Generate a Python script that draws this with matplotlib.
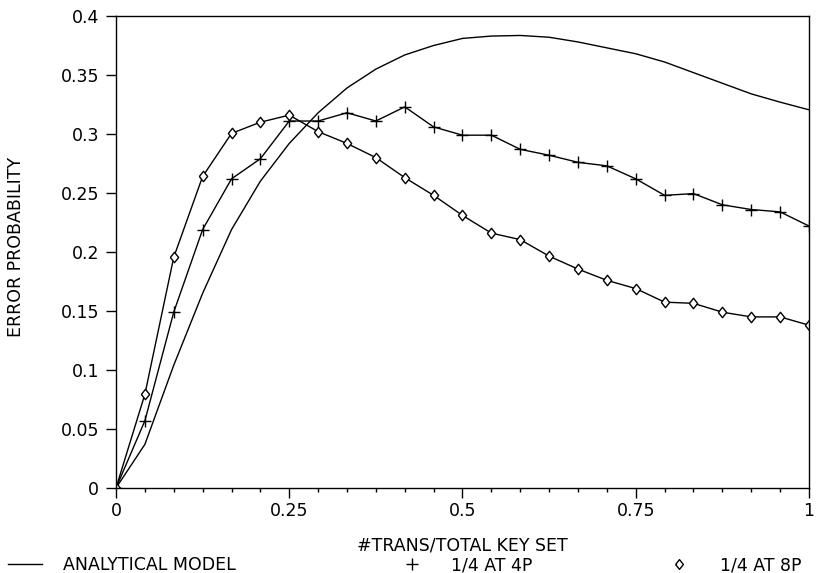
import numpy as np
import matplotlib.pyplot as plt
from matplotlib.lines import Line2D

# fraction of key set transmitted (24 steps)
frac = [0.0, 0.0417, 0.0833, 0.125, 0.1667, 0.2083, 0.25, 0.2917, 0.3333,
        0.375, 0.4167, 0.4583, 0.5, 0.5417, 0.5833, 0.625, 0.6667, 0.7083,
        0.75, 0.7917, 0.8333, 0.875, 0.9167, 0.9583, 1.0]

# analytical model
analytical = [0.0, 0.037, 0.104, 0.165, 0.219, 0.260, 0.292, 0.318, 0.339,
              0.355, 0.367, 0.375, 0.381, 0.383, 0.3835, 0.382, 0.378, 0.373,
              0.368, 0.361, 0.352, 0.343, 0.334, 0.327, 0.3205]

# 1/4 at 4P
err_4p = [0.0, 0.057, 0.149, 0.219, 0.262, 0.279, 0.311, 0.311, 0.318,
          0.311, 0.323, 0.306, 0.299, 0.299, 0.287, 0.282, 0.276, 0.273,
          0.262, 0.248, 0.2495, 0.240, 0.236, 0.234, 0.222]

# 1/4 at 8P
err_8p = [0.0, 0.0795, 0.1955, 0.264, 0.3005, 0.310, 0.316, 0.302, 0.292,
          0.280, 0.263, 0.248, 0.231, 0.216, 0.2105, 0.1965, 0.1855, 0.176,
          0.169, 0.1575, 0.1565, 0.149, 0.145, 0.145, 0.138]

xticks = [0, 0.25, 0.5, 0.75, 1]
xticklabels = ["0", "0.25", "0.5", "0.75", "1"]
yticks = [0, 0.05, 0.1, 0.15, 0.2, 0.25, 0.3, 0.35, 0.4]
yticklabels = ["0", "0.05", "0.1", "0.15", "0.2", "0.25", "0.3", "0.35", "0.4"]

plt.rcParams['font.family'] = ['DejaVu Sans']
fs = 12.5

# diamond a bit wider than matplotlib's thin 'd'
diamond = [(-0.4, 0), (0, 0.5), (0.4, 0), (0, -0.5), (-0.4, 0)]

fig = plt.figure(figsize=(8.2, 5.73), dpi=100)
ax = fig.add_axes([116/820, 1-488/573, 693/820, 472/573])

lw = 1.0
ax.plot(frac, analytical, color='black', lw=lw)
ax.plot(frac, err_4p, color='black', lw=lw, marker='+', ms=8, mew=1.0)
ax.plot(frac, err_8p, color='black', lw=lw, marker=diamond, ms=7.5, mew=1.0,
        mfc='white', mec='black')

ax.set_xlim(0, 1)
ax.set_ylim(0, 0.4)
ax.set_xticks(xticks)
ax.set_xticklabels(xticklabels, fontsize=fs)
ax.set_xticks(frac, minor=True)
ax.set_yticks(yticks)
ax.set_yticklabels(yticklabels, fontsize=fs)
ax.tick_params(axis='x', which='major', direction='out', length=7, width=1, pad=3)
ax.tick_params(axis='x', which='minor', direction='out', length=3, width=1)
ax.tick_params(axis='y', which='major', direction='out', length=7, width=1, pad=5)
for s in ax.spines.values():
    s.set_linewidth(1.0)

ax.set_ylabel("ERROR PROBABILITY", fontsize=fs)
ax.yaxis.set_label_coords(-0.131, 0.51)
ax.set_xlabel("#TRANS/TOTAL KEY SET", fontsize=fs)
ax.xaxis.set_label_coords(0.5, -0.121)
ax.xaxis.label.set_va('center')

# legend entries along the bottom
ly = 1 - 565/573
h1 = Line2D([], [], color='black', lw=lw)
h2 = Line2D([], [], color='black', lw=0, marker='+', ms=8, mew=1.0)
h3 = Line2D([], [], color='black', lw=0, marker=diamond, ms=7, mew=1.0, mfc='white')
em = fs * 100 / 72
fig.legend([h1], ["ANALYTICAL MODEL"], loc='center left', bbox_to_anchor=(8/820, ly),
           frameon=False, fontsize=fs, borderpad=0, borderaxespad=0,
           handlelength=34/em, handletextpad=21/em)
fig.legend([h2], ["1/4 AT 4P"], loc='center left', bbox_to_anchor=(403/820, ly),
           frameon=False, fontsize=fs, borderpad=0, borderaxespad=0,
           handlelength=1.0, handletextpad=31/em)
fig.legend([h3], ["1/4 AT 8P"], loc='center left', bbox_to_anchor=(670/820, ly),
           frameon=False, fontsize=fs, borderpad=0, borderaxespad=0,
           handlelength=1.0, handletextpad=33/em)

fig.savefig("out.png", dpi=100)
